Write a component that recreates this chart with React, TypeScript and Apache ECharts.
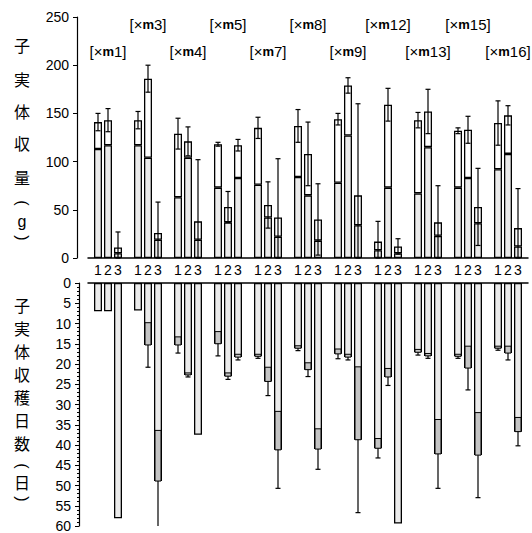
import React, { useEffect, useRef } from "react";
import * as echarts from "echarts";

const groups = ["m1", "m3", "m4", "m5", "m7", "m8", "m9", "m12", "m13", "m15", "m16"];
const slotLabels = ["1", "2", "3"];

// 子実体収量 (g): lower segment, total, SD for treatments 1, 2, 3
const yieldLower1 = [113, 117, 63, 73, 76, 84, 78, 8, 67, 73, 92];
const yieldTotal1 = [141, 143, 129, 118, 135, 137, 144, 17, 143, 132, 140];
const yieldSd1 = [9, 9, 16, 2, 11, 17, 6, 21, 8, 3, 23];
const yieldLower2 = [117, 104, 104, 37, 42, 65, 127, 73, 115, 83, 108];
const yieldTotal2 = [143, 186, 121, 53, 55, 108, 179, 159, 152, 133, 148];
const yieldSd2 = [12, 14, 15, 16, 24, 33, 8, 17, 23, 14, 10];
const yieldLower3 = [5, 19, 19, 83, 22, 18, 34, 5, 23, 36, 12];
const yieldTotal3 = [11, 26, 38, 117, 42, 40, 65, 12, 37, 53, 31];
const yieldSd3 = [16, 32, 64, 6, 61, 37, 95, 8, 38, 40, 41];

// 子実体収穫日数 (日): mean, SD
const days1 = [7, 6.8, 15.3, 15, 18.1, 16.1, 17.5, 40.8, 17.1, 18.1, 16.1];
const daysSd1 = [0, 0, 2, 3, 0.5, 0.6, 1.2, 2.4, 0.7, 0.5, 0.5];
const days2 = [7, 15.3, 22.7, 23, 24.3, 21.4, 18.3, 23.2, 18, 21, 17.3];
const daysSd2 = [0, 5.5, 0.5, 0.8, 3.5, 1.7, 0.7, 2.1, 0.6, 5.4, 1.7];
const days3 = [58.1, 48.9, 37.5, 18.3, 41.2, 41, 38.7, 59.4, 42.2, 42.5, 36.7];
const daysSd3 = [0, 12.5, 0, 0.7, 9.5, 5, 18, 0, 8.5, 10.5, 3.5];

const topTitle = ["子", "実", "体", "収", "量", "(", "g", ")"];
const bottomTitle = ["子", "実", "体", "収", "穫", "日", "数", "(", "日", ")"];

const BAR_W = 8;
const BAR_GAP = 0.25;
const STEP = BAR_W * (1 + BAR_GAP);
const FILL = "#ebebeb";
const BOX_FILL = "#c4c4c4";
const FONT = "'Liberation Sans', Arial, sans-serif";
const CJK = "'Noto Sans CJK JP', sans-serif";

export default function App() {
  const ref = useRef<HTMLDivElement>(null);
  useEffect(() => {
    if (!ref.current) return;
    const chart = echarts.init(ref.current, null, { renderer: "svg" });

    const lowers = [yieldLower1, yieldLower2, yieldLower3];
    const totals = [yieldTotal1, yieldTotal2, yieldTotal3];
    const sds = [yieldSd1, yieldSd2, yieldSd3];
    const days = [days1, days2, days3];
    const dsds = [daysSd1, daysSd2, daysSd3];

    const topErr: number[][] = [];
    const botErr: number[][] = [];
    groups.forEach((_, i) => {
      for (let k = 0; k < 3; k++) {
        topErr.push([i, k, totals[k][i], sds[k][i]]);
        botErr.push([i, k, days[k][i], dsds[k][i]]);
      }
    });

    const barBase = {
      type: "bar",
      barWidth: BAR_W,
      barGap: `${BAR_GAP * 100}%`,
      silent: true,
    };

    const series: any[] = [];
    for (let k = 0; k < 3; k++) {
      series.push({
        ...barBase,
        name: `lower${k}`,
        stack: `s${k}`,
        xAxisIndex: 0,
        yAxisIndex: 0,
        data: lowers[k],
        itemStyle: { color: FILL, borderColor: "#000", borderWidth: 1.3 },
      });
      series.push({
        ...barBase,
        name: `upper${k}`,
        stack: `s${k}`,
        xAxisIndex: 0,
        yAxisIndex: 0,
        data: totals[k].map((t, i) => t - lowers[k][i]),
        itemStyle: { color: "#fff", borderColor: "#000", borderWidth: 1.3 },
      });
    }
    for (let k = 0; k < 3; k++) {
      series.push({
        ...barBase,
        name: `days${k}`,
        xAxisIndex: 1,
        yAxisIndex: 1,
        data: days[k],
        itemStyle: { color: FILL, borderColor: "#000", borderWidth: 1.3 },
      });
    }

    series.push({
      type: "custom",
      xAxisIndex: 0,
      yAxisIndex: 0,
      encode: { x: 0, y: 2 },
      data: topErr,
      z: 5,
      silent: true,
      renderItem: (params: any, api: any) => {
        const cat = api.value(0);
        const slot = api.value(1);
        const total = api.value(2);
        const sd = api.value(3);
        const dx = (slot - 1) * STEP;
        const hi = api.coord([cat, total + sd]);
        const lo = api.coord([cat, Math.max(total - sd, 0)]);
        const x = hi[0] + dx;
        const st = { stroke: "#000", lineWidth: 1.2 };
        return {
          type: "group",
          children: [
            { type: "line", shape: { x1: x, y1: hi[1], x2: x, y2: lo[1] }, style: st },
            { type: "line", shape: { x1: x - 2.5, y1: hi[1], x2: x + 2.5, y2: hi[1] }, style: st },
            { type: "line", shape: { x1: x - 2.5, y1: lo[1], x2: x + 2.5, y2: lo[1] }, style: st },
          ],
        };
      },
    });

    series.push({
      type: "custom",
      xAxisIndex: 1,
      yAxisIndex: 1,
      encode: { x: 0, y: 2 },
      data: botErr,
      z: 5,
      clip: true,
      silent: true,
      renderItem: (params: any, api: any) => {
        const cat = api.value(0);
        const slot = api.value(1);
        const d = api.value(2);
        const sd = api.value(3);
        const dx = (slot - 1) * STEP;
        const pd = api.coord([cat, d]);
        const pa = api.coord([cat, Math.max(d - sd, 0)]);
        const pb = api.coord([cat, d + sd]);
        const x = pd[0] + dx;
        const st = { stroke: "#000", lineWidth: 1.2 };
        const children: any[] = [];
        if (sd > 0) {
          children.push({
            type: "rect",
            shape: { x: x - (BAR_W - 2) / 2, y: pa[1], width: BAR_W - 2, height: pd[1] - pa[1] },
            style: { fill: BOX_FILL, stroke: "#000", lineWidth: 1 },
          });
          children.push({ type: "line", shape: { x1: x, y1: pd[1], x2: x, y2: pb[1] }, style: st });
          children.push({ type: "line", shape: { x1: x - 2.5, y1: pb[1], x2: x + 2.5, y2: pb[1] }, style: st });
        }
        return { type: "group", children };
      },
    });

    // group labels [×m1] etc., placed through the axis scales
    series.push({
      type: "custom",
      xAxisIndex: 0,
      yAxisIndex: 0,
      encode: { x: 0, y: 1 },
      silent: true,
      z: 6,
      data: groups.map((_, i) => [i, i % 2 === 0 ? 214 : 242]),
      renderItem: (params: any, api: any) => {
        const p = api.coord([api.value(0), api.value(1)]);
        return {
          type: "text",
          x: p[0],
          y: p[1],
          style: {
            text: `[×{m|m}${groups[params.dataIndex].slice(1)}]`,
            fill: "#000",
            font: `15px ${FONT}`,
            fontSize: 15,
            fontFamily: FONT,
            align: "center",
            verticalAlign: "middle",
            rich: { m: { fontWeight: "bold", fontSize: 13, fontFamily: FONT, fill: "#000" } },
          },
        };
      },
    });

    const titleTexts: any[] = [];
    const isParen = (c: string) => c === "(" || c === ")";
    const topY = [45, 79, 111, 143, 177, 203, 221, 238];
    topTitle.forEach((c, i) =>
      titleTexts.push({
        type: "text",
        x: 22,
        y: topY[i],
        rotation: isParen(c) ? -Math.PI / 2 : 0,
        style: {
          text: c,
          fontSize: 16,
          fontFamily: c === "g" || isParen(c) ? FONT : CJK,
          fill: "#000",
          align: "center",
          verticalAlign: "middle",
        },
      })
    );
    const botY = [305, 328, 351, 374, 397, 420, 443, 466, 482, 499];
    bottomTitle.forEach((c, i) =>
      titleTexts.push({
        type: "text",
        x: 22,
        y: botY[i],
        rotation: isParen(c) ? -Math.PI / 2 : 0,
        style: {
          text: c,
          fontSize: 16,
          fontFamily: isParen(c) ? FONT : CJK,
          fill: "#000",
          align: "center",
          verticalAlign: "middle",
        },
      })
    );

    const axisLabel = { color: "#000", fontFamily: FONT, fontSize: 14, margin: 8 };

    chart.setOption({
      animation: false,
      grid: [
        { left: 88, right: 4, top: 17, height: 241 },
        { left: 88, right: 4, top: 283, height: 243 },
      ],
      xAxis: [
        {
          type: "category",
          gridIndex: 0,
          data: groups,
          axisLine: { lineStyle: { color: "#000", width: 1.5 } },
          axisTick: { show: false },
          axisLabel: {
            interval: 0,
            margin: 5,
            formatter: () => slotLabels.map((s) => `{a|${s}}`).join(""),
            rich: { a: { width: STEP, align: "center", fontSize: 14, fontFamily: FONT, color: "#000" } },
          },
        },
        {
          type: "category",
          gridIndex: 1,
          position: "top",
          data: groups,
          axisLine: { lineStyle: { color: "#000", width: 1.5 } },
          axisTick: { show: false },
          axisLabel: { show: false },
        },
      ],
      yAxis: [
        {
          type: "value",
          gridIndex: 0,
          min: 0,
          max: 250,
          interval: 50,
          offset: 11,
          axisLine: { show: true, lineStyle: { color: "#000", width: 1.2 } },
          axisTick: { show: true, length: 4, lineStyle: { color: "#000" } },
          splitLine: { show: false },
          axisLabel,
        },
        {
          type: "value",
          gridIndex: 1,
          inverse: true,
          min: 0,
          max: 60,
          interval: 5,
          offset: 9,
          axisLine: { show: true, lineStyle: { color: "#000", width: 1.2 } },
          axisTick: { show: true, length: 4, lineStyle: { color: "#000" } },
          minorTick: { show: true, splitNumber: 5, length: 2, lineStyle: { color: "#000" } },
          splitLine: { show: false },
          axisLabel,
        },
      ],
      graphic: titleTexts,
      series,
    });

    return () => chart.dispose();
  }, []);

  return <div ref={ref} style={{ position: "fixed", left: 0, top: 0, width: 532, height: 533, background: "#fff" }} />;
}
